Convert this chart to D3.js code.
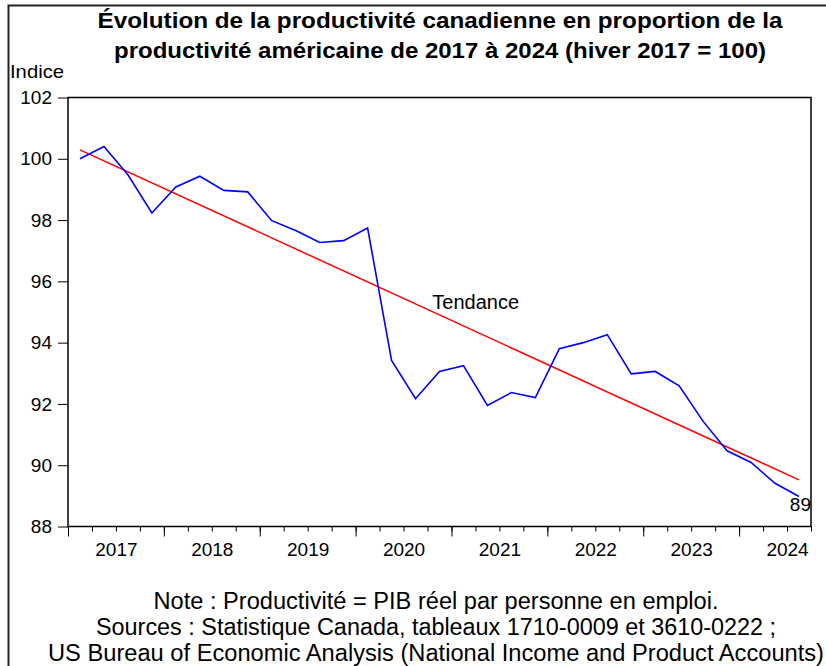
<!DOCTYPE html>
<html>
<head>
<meta charset="utf-8">
<script src="https://cdn.jsdelivr.net/npm/d3@7"></script>
<style>
  body { margin: 0; background: #fff; }
  svg { display: block; font-family: "Liberation Sans", Arial, sans-serif; }
</style>
</head>
<body>
<div id="chart"></div>
<script>
// quarters from hiver 2017 (index 0) to 2024 T3 (index 30)
var years = [2017, 2018, 2019, 2020, 2021, 2022, 2023, 2024];
var productivite = [
  100.00, 100.40, 99.48, 98.23, 99.08, 99.43, 98.97, 98.92,
  97.98, 97.66, 97.27, 97.33, 97.74, 93.42, 92.17, 93.06,
  93.25, 91.95, 92.37, 92.21, 93.80, 94.00, 94.26, 92.98,
  93.06, 92.59, 91.43, 90.47, 90.09, 89.41, 88.98
];
// trend line: start and end values (first and last quarter)
var tendance = [100.29, 89.52];
var yTicks = [88, 90, 92, 94, 96, 98, 100, 102];
var titleLines = [
  "Évolution de la productivité canadienne en proportion de la",
  "productivité américaine de 2017 à 2024 (hiver 2017 = 100)"
];
var noteLines = [
  "Note : Productivité = PIB réel par personne en emploi.",
  "Sources : Statistique Canada, tableaux 1710-0009 et 3610-0222 ;",
  "US Bureau of Economic Analysis (National Income and Product Accounts)"
];

var W = 826, H = 666;
var margin = {top: 97.5, right: 15, bottom: 139.5, left: 68};
var width = 811 - margin.left,
    height = 526.5 - margin.top;

var svg = d3.select("#chart").append("svg")
    .attr("width", W)
    .attr("height", H);

// outer frame (runs off the right and bottom edges)
svg.append("rect")
    .attr("x", 8.5).attr("y", 5.5)
    .attr("width", 840).attr("height", 700)
    .attr("fill", "none")
    .attr("stroke", "#222")
    .attr("stroke-width", 2);

// title
var titleW = [685, 652];
svg.selectAll(".title")
    .data(titleLines)
    .enter().append("text")
    .attr("class", "title")
    .attr("x", 440)
    .attr("y", function(d, i) { return 28 + i * 30; })
    .attr("text-anchor", "middle")
    .attr("font-size", 22)
    .attr("font-weight", "bold")
    .attr("textLength", function(d, i) { return titleW[i]; })
    .attr("lengthAdjust", "spacingAndGlyphs")
    .text(function(d) { return d; });

svg.append("text")
    .attr("x", 10).attr("y", 78)
    .attr("font-size", 19)
    .attr("textLength", 54)
    .attr("lengthAdjust", "spacingAndGlyphs")
    .text("Indice");

var g = svg.append("g")
    .attr("transform", "translate(" + margin.left + "," + margin.top + ")");

// scales
var x = d3.scaleLinear().domain([0, productivite.length]).range([0, width]);
var y = d3.scaleLinear().domain([88, 102]).range([height, 0]);

// plot box
g.append("rect")
    .attr("width", width).attr("height", height)
    .attr("fill", "none")
    .attr("stroke", "#000")
    .attr("stroke-width", 1.5);

// y axis
var yAxis = g.append("g")
    .call(d3.axisLeft(y).tickValues(yTicks).tickSize(10).tickPadding(6));
yAxis.select(".domain").remove();
yAxis.selectAll("text").attr("font-size", 19).attr("font-family", null).attr("fill", "#000");
yAxis.selectAll("line").attr("stroke", "#000");

// x axis: minor ticks every quarter, major at start of year
var quarters = d3.range(0, productivite.length + 1);
var xMinor = g.append("g")
    .attr("transform", "translate(0," + height + ")")
    .call(d3.axisBottom(x).tickValues(quarters).tickSize(5).tickFormat(""));
xMinor.select(".domain").remove();
var xMajor = g.append("g")
    .attr("transform", "translate(0," + height + ")")
    .call(d3.axisBottom(x).tickValues(years.map(function(d, i) { return i * 4; })).tickSize(10).tickFormat(""));
xMajor.select(".domain").remove();
g.selectAll("line").attr("stroke", "#000");

// year labels centred on each year
var xLabels = g.append("g")
    .attr("transform", "translate(0," + height + ")")
    .call(d3.axisBottom(x)
      .tickValues(years.map(function(d, i) { return i * 4 + 2; }))
      .tickSize(0).tickPadding(16)
      .tickFormat(function(d) { return years[(d - 2) / 4]; }));
xLabels.select(".domain").remove();
xLabels.selectAll("text").attr("font-size", 19).attr("font-family", null).attr("fill", "#000");

// trend line
var trendData = [[0.5, tendance[0]], [productivite.length - 0.5, tendance[1]]];
g.append("path")
    .datum(trendData)
    .attr("fill", "none")
    .attr("stroke", "#ff0000")
    .attr("stroke-width", 1.5)
    .attr("d", d3.line()
      .x(function(d) { return x(d[0]); })
      .y(function(d) { return y(d[1]); }));

// productivity line
g.append("path")
    .datum(productivite)
    .attr("fill", "none")
    .attr("stroke", "#0000ff")
    .attr("stroke-width", 1.6)
    .attr("d", d3.line()
      .x(function(d, i) { return x(i + 0.5); })
      .y(function(d) { return y(d); }));

// annotations
g.append("text")
    .attr("x", x(15.2))
    .attr("y", y(95.1))
    .attr("font-size", 20)
    .text("Tendance");

var last = productivite[productivite.length - 1];
g.append("text")
    .attr("x", x(productivite.length))
    .attr("y", y(last) + 15)
    .attr("text-anchor", "end")
    .attr("font-size", 19)
    .text(Math.round(last));

// notes
var noteW = [565, 680, 776];
svg.selectAll(".note")
    .data(noteLines)
    .enter().append("text")
    .attr("class", "note")
    .attr("x", 436)
    .attr("y", function(d, i) { return 609 + i * 26; })
    .attr("text-anchor", "middle")
    .attr("font-size", 23)
    .attr("textLength", function(d, i) { return noteW[i]; })
    .attr("lengthAdjust", "spacingAndGlyphs")
    .text(function(d) { return d; });
</script>
</body>
</html>
